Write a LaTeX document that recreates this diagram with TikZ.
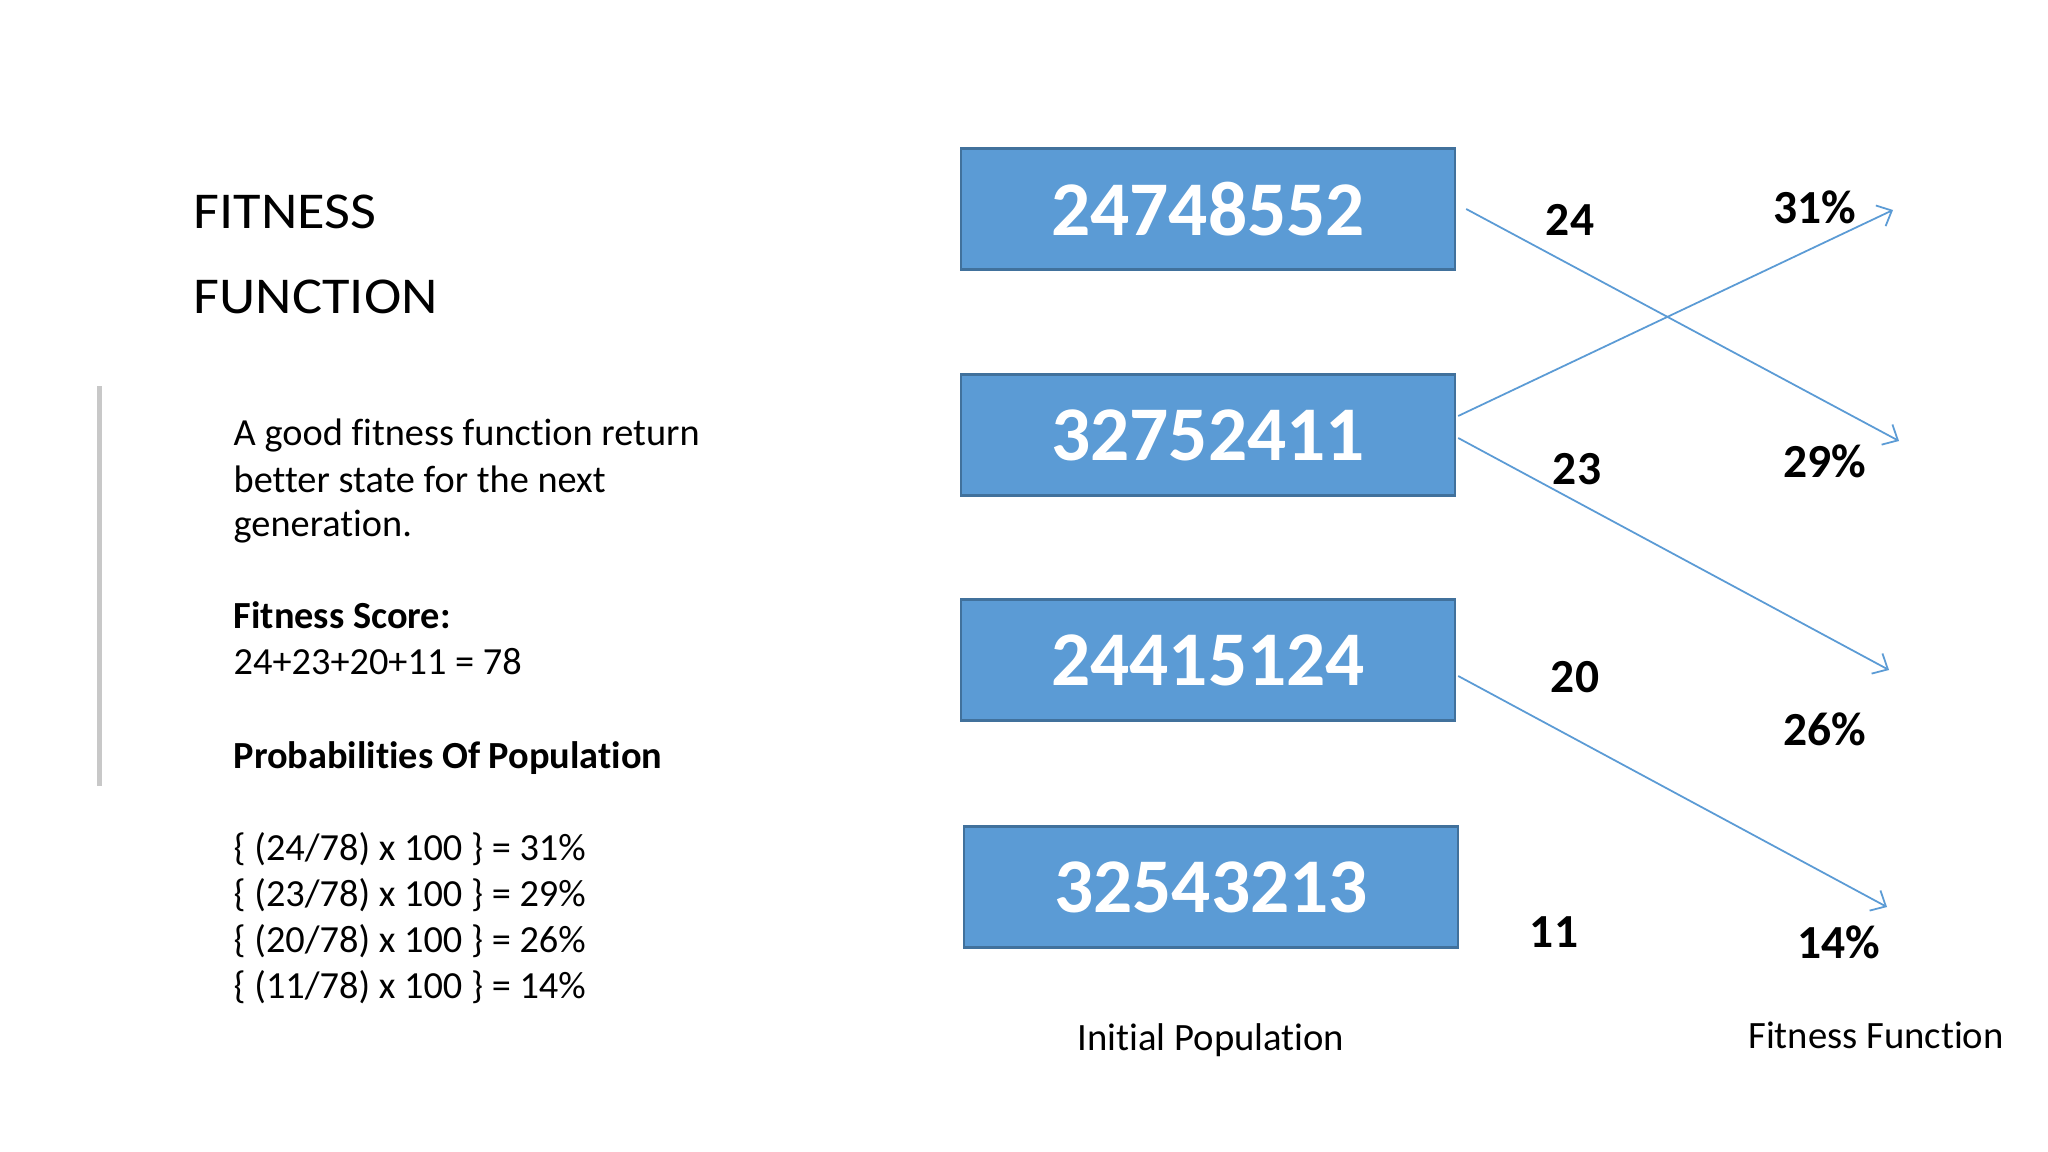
\documentclass[tikz,border=0pt]{standalone}
\usepackage{fontspec}
\setmainfont[Ligatures=NoCommon]{Carlito}
\newfontfamily\titlefont[Ligatures=NoCommon,FakeStretch=1.09]{Carlito}
\usetikzlibrary{arrows.meta}
\definecolor{boxblue}{HTML}{5B9BD5}
\definecolor{boxedge}{HTML}{41719C}
\definecolor{bargray}{HTML}{C8C8C8}
\begin{document}
\begin{tikzpicture}[x=0.01cm,y=-0.01cm,
  popbox/.style={draw=boxedge,line width=0.6pt,fill=boxblue,minimum width=4.94cm,minimum height=1.21cm,inner sep=0pt,text=white,font=\fontsize{22}{26}\selectfont\bfseries},
  score/.style={font=\fontsize{13.5}{16}\selectfont\bfseries,inner sep=0pt},
  title/.style={font=\titlefont\fontsize{14.7}{17}\selectfont,anchor=base west,inner sep=0pt},
  body/.style={font=\fontsize{10.9}{13}\selectfont,anchor=base west,inner sep=0pt},
  bodyb/.style={body,font=\fontsize{10.9}{13}\selectfont\bfseries},
  caption/.style={font=\fontsize{11}{13}\selectfont,anchor=base,inner sep=0pt},
  link/.style={draw=boxblue,line width=0.5pt,-{Straight Barb[length=3.5pt,width=6.5pt]}}
]
\useasboundingbox (0,0) rectangle (2048,1152);
\fill[white] (0,0) rectangle (2048,1152);

% title
\node[title] (t1line) at (193,229) {FITNESS};
\node[title] (t2line) at (193,314) {FUNCTION};

% gray bar
\fill[bargray] (97,386) rectangle (102,786);

% body text
\node[body] (p1) at (233,446) {A good fitness function return};
\node[body] (p2) at (233,492) {better state for the next};
\node[body] (p3) at (233,537) {generation.};
\node[bodyb] (fs) at (233,629) {Fitness Score:};
\node[body] (fsum) at (233,675) {24+23+20+11 = 78};
\node[bodyb] (pp) at (233,768) {Probabilities Of Population};
\node[body] (q1) at (233,860) {\{ (24/78) x 100 \} = 31\%};
\node[body] (q2) at (233,906) {\{ (23/78) x 100 \} = 29\%};
\node[body] (q3) at (233,952) {\{ (20/78) x 100 \} = 26\%};
\node[body] (q4) at (233,998) {\{ (11/78) x 100 \} = 14\%};

% population boxes
\node[popbox] (b1) at (1208,209) {24748552};
\node[popbox] (b2) at (1208,435) {32752411};
\node[popbox] (b3) at (1208,660) {24415124};
\node[popbox] (b4) at (1211,887) {32543213};

% scores
\node[score] (s1) at (1570,220) {24};
\node[score] (s2) at (1577,469) {23};
\node[score] (s3) at (1575,677) {20};
\node[score] (s4) at (1554,932) {11};

% percentages
\node[score] (r1) at (1815,207) {31\%};
\node[score] (r2) at (1825,461) {29\%};
\node[score] (r3) at (1825,729) {26\%};
\node[score] (r4) at (1839,942) {14\%};

% arrow ends
\coordinate (e1) at (1899,441);
\coordinate (e2) at (1893,210);
\coordinate (e3) at (1889,670);
\coordinate (e4) at (1887,907);

\draw[link] ([xshift=0.1cm]b1.east) -- (e1);
\draw[link] ([xshift=0.02cm,yshift=0.19cm]b2.east) -- (e2);
\draw[link] ([xshift=0.02cm,yshift=-0.03cm]b2.east) -- (e3);
\draw[link] ([xshift=0.02cm,yshift=-0.16cm]b3.east) -- (e4);

% captions
\node[caption] (c1) at (1211,1050) {Initial Population};
\node[caption] (c2) at (1876,1048) {Fitness Function};
\end{tikzpicture}
\end{document}
